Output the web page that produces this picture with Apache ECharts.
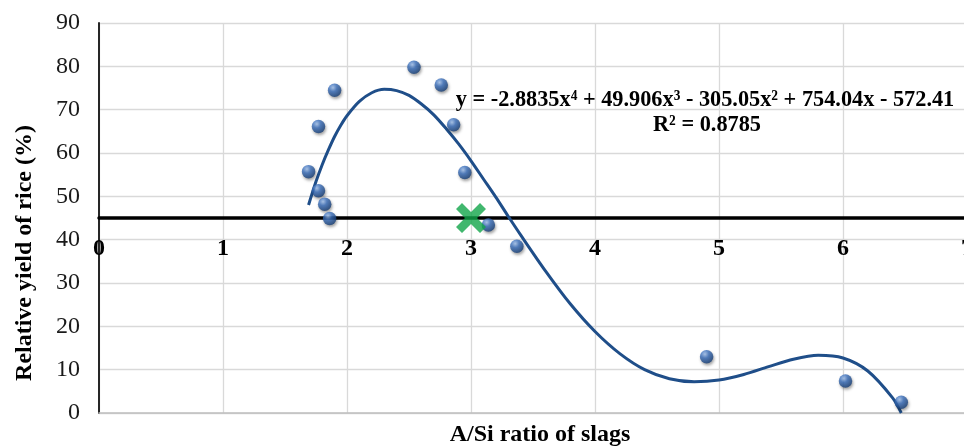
<!DOCTYPE html>
<html>
<head>
<meta charset="utf-8">
<script src="https://cdn.jsdelivr.net/npm/echarts@6/dist/echarts.min.js"></script>
<style>
html,body{margin:0;padding:0;background:#fff;overflow:hidden;}
#chart{width:964px;height:447px;}
</style>
</head>
<body>
<div id="chart"></div>
<script>
// Observed data points: A/Si ratio vs relative yield of rice (%)
const ratioX = [1.69, 1.77, 1.77, 1.82, 1.86, 1.90, 2.54, 2.76, 2.86, 2.95, 3.14, 3.37, 4.90, 6.02, 6.47];
const yieldY = [55.7, 66.1, 51.3, 48.2, 44.9, 74.5, 79.8, 75.7, 66.5, 55.5, 43.4, 38.5, 13.0, 7.4, 2.5];
// Polynomial trendline
const trendX = [1.69, 1.75, 1.8, 1.85, 1.9, 1.95, 2.0, 2.1, 2.2, 2.3, 2.4, 2.5, 2.6, 2.7, 2.8, 2.9, 3.0, 3.1, 3.2, 3.3, 3.4, 3.6, 3.8, 4.0, 4.2, 4.4, 4.6, 4.8, 5.0, 5.2, 5.4, 5.6, 5.8, 6.0, 6.2, 6.4, 6.47];
const trendY = [48.0, 53.4, 57.3, 60.7, 63.8, 66.4, 68.6, 71.9, 73.9, 74.7, 74.4, 73.3, 71.3, 68.8, 65.6, 62.1, 58.2, 54.0, 49.8, 45.4, 41.1, 32.8, 25.2, 18.8, 13.7, 10.0, 7.9, 7.2, 7.6, 8.9, 10.7, 12.4, 13.3, 12.7, 9.7, 3.5, 0.0];
// Reference marker
const markX = [3];
const markY = [45];
// Value at which the horizontal axis crosses
const crossY = 45;
const xTicks = ['0','1','2','3','4','5','6','7'];
const yTicks = ['0','10','20','30','40','50','60','70','80','90'];
const equationText = 'y = -2.8835x⁴ + 49.906x³ - 305.05x² + 754.04x - 572.41';
const r2Text = 'R² = 0.8785';
const xTitle = 'A/Si ratio of slags';
const yTitle = 'Relative yield of rice (%)';

const serif = '"Liberation Serif", "Times New Roman", serif';
const chart = echarts.init(document.getElementById('chart'));

const gridTop = 23, gridBottom = 34;
const plotH = 447 - gridTop - gridBottom;
const crossOffset = -plotH * crossY / 90;

chart.setOption({
  animation: false,
  backgroundColor: '#ffffff',
  grid: { left: 99, width: 868, top: gridTop, bottom: gridBottom, containLabel: false, outerBoundsMode: 'none' },
  xAxis: [
    {
      type: 'value', min: 0, max: 7, interval: 1, position: 'bottom',
      axisLine: { show: true, lineStyle: { color: '#bfbfbf', width: 1.5 } },
      axisTick: { show: false },
      axisLabel: { show: false },
      splitLine: { show: true, lineStyle: { color: '#d9d9d9', width: 1.3 } }
    },
    {
      type: 'value', min: 0, max: 7, interval: 1, position: 'bottom',
      offset: crossOffset,
      axisLine: { show: true, onZero: false, lineStyle: { color: '#000000', width: 3.5 } },
      axisTick: { show: false },
      splitLine: { show: false },
      axisLabel: {
        show: true, margin: 19, hideOverlap: false,
        fontFamily: serif, fontSize: 24, fontWeight: 'bold', color: '#000',
        formatter: function (v) { return xTicks[Math.round(v)]; }
      }
    }
  ],
  yAxis: {
    type: 'value', min: 0, max: 90, interval: 10,
    axisLine: { show: true, onZero: false, lineStyle: { color: '#262626', width: 2 } },
    axisTick: { show: false },
    splitLine: { show: true, lineStyle: { color: '#d9d9d9', width: 1.3 } },
    axisLabel: {
      margin: 19, fontFamily: serif, fontSize: 24, color: '#1a1a1a',
      formatter: function (v) { return yTicks[Math.round(v / 10)]; }
    }
  },
  graphic: [
    { type: 'text', x: 25, y: 253, rotation: Math.PI / 2,
      style: { text: yTitle, font: 'bold 24px ' + serif, fill: '#000', textAlign: 'center', textVerticalAlign: 'middle' } },
    { type: 'text', x: 540, y: 435,
      style: { text: xTitle, font: 'bold 24px ' + serif, fill: '#000', textAlign: 'center', textVerticalAlign: 'middle' } },
    { type: 'text', x: 705, y: 100, z: 10,
      style: { text: equationText, font: 'bold 22.3px ' + serif, fill: '#000', textAlign: 'center', textVerticalAlign: 'middle' } },
    { type: 'text', x: 707, y: 125, z: 10,
      style: { text: r2Text, font: 'bold 22.3px ' + serif, fill: '#000', textAlign: 'center', textVerticalAlign: 'middle' } }
  ],
  series: [
    {
      type: 'line', name: 'trend', xAxisIndex: 0,
      data: trendX.map((x, i) => [x, trendY[i]]),
      smooth: 0.3, showSymbol: false, symbol: 'none',
      lineStyle: { color: '#1f4e89', width: 3 },
      z: 3
    },
    {
      type: 'scatter', name: 'yield', xAxisIndex: 0,
      data: ratioX.map((x, i) => [x, yieldY[i]]),
      symbol: 'circle', symbolSize: 13.5,
      itemStyle: {
        color: {
          type: 'radial', x: 0.38, y: 0.32, r: 0.72,
          colorStops: [
            { offset: 0, color: '#a3c3ef' },
            { offset: 0.4, color: '#3a6fbc' },
            { offset: 1, color: '#143a70' }
          ]
        },
        shadowBlur: 3, shadowColor: 'rgba(0,0,0,0.45)', shadowOffsetX: 1, shadowOffsetY: 2
      },
      z: 4
    },
    {
      type: 'scatter', name: 'mark', xAxisIndex: 0,
      data: markX.map((x, i) => [x, markY[i]]),
      symbol: 'path://M0,4 L4,0 L10,6 L16,0 L20,4 L14,10 L20,16 L16,20 L10,14 L4,20 L0,16 L6,10 Z',
      symbolSize: 30,
      itemStyle: { color: '#12a54a' },
      z: 5
    }
  ]
});
</script>
</body>
</html>
